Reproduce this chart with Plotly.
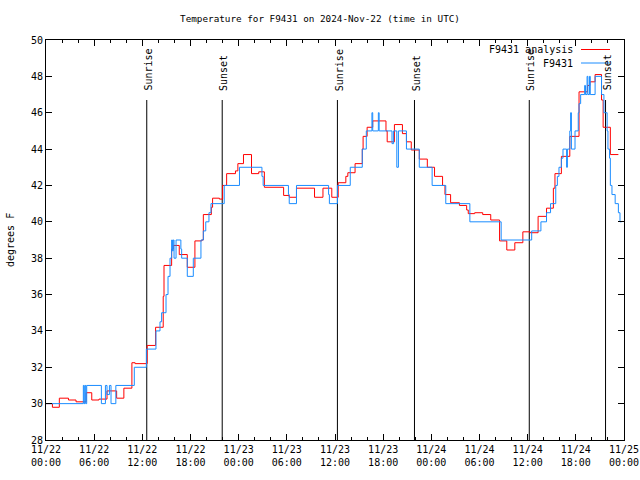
import pandas as pd
import plotly.graph_objects as go

START = "2024-11-22 00:00"
END = "2024-11-25 00:00"
TITLE = "Temperature for F9431 on 2024-Nov-22 (time in UTC)"

# Analysis series (hours since start, degrees F), drawn as steps
red_hours = [0, 0.8, 1.66, 2.8, 3.74, 5.0, 5.7, 6.6, 7.6, 8.8, 9.7, 10.7, 11.1, 12.6, 13.65,
             14.6, 14.7, 15.65, 15.85, 16.6, 17.6, 18.55, 19.4, 19.6, 20.6, 20.75, 21.6, 22.0,
             22.5, 23.6, 23.9, 24.6, 25.6, 26.5, 27.2, 29.6, 30.3, 31.2, 33.45, 34.5, 35.6,
             36.4, 37.35, 37.6, 38.5, 39.4, 39.5, 40.0, 40.7, 42.35, 42.5, 43.4, 44.4, 44.9,
             45.5, 46.5, 47.5, 48.4, 49.4, 49.7, 50.4, 51.5, 52.4, 52.6, 53.4, 54.4, 55.4,
             56.5, 57.4, 58.4, 59.4, 60.3, 61.3, 62.35, 63.2, 63.4, 64.2, 65.25, 66.4, 67.45,
             67.75, 68.4, 69.2, 69.4, 70.3, 71.3]
red_temps = [30.0, 29.8, 30.3, 30.2, 30.1, 30.6, 30.2, 30.25, 30.7, 30.3, 30.85, 32.25, 32.2, 33.2, 34.2,
             35.9, 37.6, 38.5, 38.7, 38.2, 37.5, 38.95, 39.0, 40.4, 40.8, 41.3, 41.25, 42.0,
             42.65, 42.8, 43.2, 43.7, 42.65, 42.75, 41.9, 41.45, 41.35, 41.85, 41.35, 41.85, 41.35,
             42.15, 42.5, 42.7, 43.2, 44.0, 44.7, 45.2, 45.55, 45.0, 44.4, 45.35, 44.85, 44.4,
             43.95, 43.45, 43.0, 42.5, 42.0, 41.5, 41.05, 40.9, 40.65, 40.45, 40.5, 40.4, 40.1,
             38.95, 38.45, 38.85, 39.45, 39.4, 40.3, 40.75, 41.85, 42.65, 43.6, 44.7, 47.15, 47.5,
             47.7, 48.1, 46.7, 45.2, 43.7, 43.7]

# Observed series (hours since start, degrees F), drawn as steps
blue_hours = [0, 4.65, 4.75, 4.85, 4.95, 5.07, 6.9, 7.4, 7.6, 7.9, 8.1, 8.7, 11.0, 12.5, 13.7,
              14.2, 14.4, 14.95, 15.2, 15.45, 15.65, 15.75, 15.85, 15.95, 16.2, 16.8, 16.9, 17.6,
              18.35, 19.3, 19.6, 19.9, 20.3, 20.55, 22.2, 24.1, 26.9, 27.05, 30.2, 30.3, 31.2,
              35.2, 35.3, 36.3, 37.9, 39.4, 39.9, 40.6, 40.7, 41.4, 41.5, 43.1, 43.3, 43.7, 43.9,
              44.9, 46.5, 48.1, 49.8, 52.8, 56.7, 60.5, 61.65, 62.35, 62.85, 63.5, 63.7, 63.9,
              64.2, 64.4, 64.85, 64.95, 65.25, 65.35, 65.45, 65.9, 66.3, 66.4, 66.6, 67.1, 67.2,
              67.4, 67.5, 67.7, 67.8, 68.4, 69.2, 69.5, 69.9, 70.0, 70.2, 70.3, 70.5, 70.9, 71.3,
              71.5, 71.7]
blue_temps = [30, 31, 30, 31, 30, 31, 30, 31, 30.5, 31, 30, 31, 32, 33, 34,
              34.5, 35, 36, 37, 38, 39, 38.4, 39, 38, 39, 38.5, 38, 37,
              38, 39, 39.5, 40, 40.5, 41, 42, 43, 42.5, 42, 41.5, 41, 42,
              41.5, 41, 42, 43, 44, 45, 46, 45, 46, 45, 44.3, 45, 43, 45,
              44, 43, 42, 41, 40, 39, 39.5, 40, 40.5, 41, 42, 42.5, 43,
              43.5, 44, 43, 44, 45, 46, 44, 45, 46, 46.5, 47, 47.5, 47,
              48, 47, 48, 47, 48, 47, 46, 45, 44, 43.5, 42, 41.5, 41, 40.5,
              40, 40]

sun_labels = ["Sunrise", "Sunset", "Sunrise", "Sunset", "Sunrise", "Sunset"]
sun_hours = [12.55, 21.95, 36.3, 45.9, 60.2, 69.7]

Y_MIN, Y_MAX = 28, 50
SUN_LINE_TOP = 46.7
SUN_LABEL_BASE = 47.15

t0 = pd.Timestamp(START)
def to_time(hours):
    return [t0 + pd.Timedelta(hours=h) for h in hours]

FONT = "DejaVu Sans Mono"
FS = 10
RED = "#ff0000"
BLUE = "#1a8cff"

FIG_W, FIG_H = 640, 480
L, R, T, B = 46, 16, 40, 40
W, H = FIG_W - L - R, FIG_H - T - B

def px(xp):
    return (xp - L) / W
def py(yp):
    return 1 - (yp - T) / H

fig = go.Figure()

# sunrise / sunset lines
for lab, h in zip(sun_labels, sun_hours):
    tt = to_time([h, h])
    fig.add_trace(go.Scatter(x=tt, y=[Y_MIN, SUN_LINE_TOP], mode="lines",
                             line=dict(color="black", width=1), showlegend=False,
                             hoverinfo="skip"))
    fig.add_annotation(x=tt[0], y=SUN_LABEL_BASE, xref="x", yref="y", text=lab,
                       textangle=-90, showarrow=False, xanchor="center", yanchor="bottom",
                       xshift=2, borderpad=0,
                       font=dict(family=FONT, size=FS, color="black"))

fig.add_trace(go.Scatter(x=to_time(red_hours), y=red_temps, mode="lines", line_shape="hv",
                         line=dict(color=RED, width=1), name="F9431 analysis", showlegend=False))
fig.add_trace(go.Scatter(x=to_time(blue_hours), y=blue_temps, mode="lines", line_shape="hv",
                         line=dict(color=BLUE, width=1), name="F9431", showlegend=False))

# legend (gnuplot style: text left, sample right)
legend_rows = [("F9431 analysis", RED, 49.5), ("F9431", BLUE, 63)]
for text, col, yp in legend_rows:
    fig.add_annotation(x=px(575), y=py(yp), xref="paper", yref="paper", text=text,
                       showarrow=False, xanchor="right", yanchor="middle",
                       font=dict(family=FONT, size=FS, color="black"))
    fig.add_shape(type="line", xref="paper", yref="paper", x0=px(581), x1=px(610),
                  y0=py(yp), y1=py(yp), line=dict(color=col, width=1))

fig.add_annotation(x=px(10), y=0.5, xref="paper", yref="paper", text="degrees F",
                   textangle=-90, showarrow=False, xanchor="center", yanchor="middle",
                   font=dict(family=FONT, size=FS, color="black"))

fig.update_layout(
    width=FIG_W, height=FIG_H,
    margin=dict(l=L, r=R, t=T, b=B, autoexpand=False),
    paper_bgcolor="white", plot_bgcolor="white",
    font=dict(family=FONT, size=FS, color="black"),
    title=dict(text=TITLE, x=0.5, xref="container", xanchor="center",
               y=1 - 19 / FIG_H, yref="container", yanchor="middle",
               font=dict(family=FONT, size=9.3, color="black")),
    showlegend=False,
)
fig.update_xaxes(type="date", range=[START, END], tick0=START, dtick=6 * 3600 * 1000,
                 tickformat="%m/%d<br>%H:%M", ticks="inside", ticklen=6, tickcolor="black",
                 showline=True, linecolor="black", linewidth=1, mirror="ticks",
                 showgrid=False, zeroline=False, ticklabeloverflow="allow",
                 minor=dict(dtick=2 * 3600 * 1000, ticks="inside", ticklen=3,
                            tickcolor="black", showgrid=False))
fig.update_yaxes(range=[Y_MIN, Y_MAX], dtick=2, ticks="inside", ticklen=6, tickcolor="black",
                 showline=True, linecolor="black", linewidth=1, mirror="ticks",
                 showgrid=False, zeroline=False)

# remove the browser's default 8px page margin so the figure sits at the window origin
fig.write_html("out.html", config={"displayModeBar": False},
               post_script="document.body.style.margin='0';")
